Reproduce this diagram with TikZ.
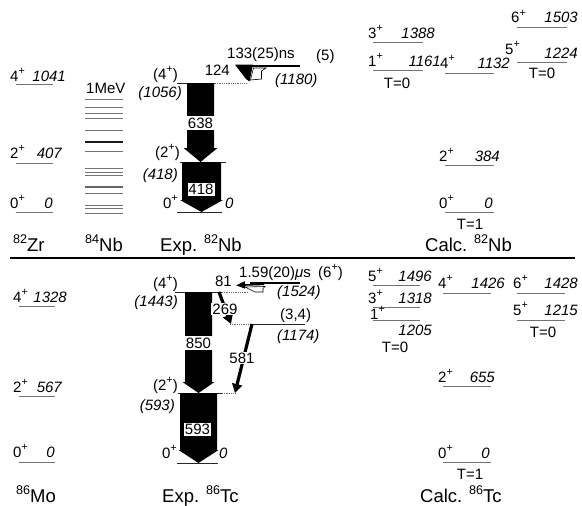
\documentclass[tikz,border=0pt]{standalone}
\usepackage{fontspec}
\usepackage{graphicx}
\setmainfont{Liberation Sans}
\usetikzlibrary{arrows.meta}
\newcommand{\parity}{\raisebox{0.42em}{\scalebox{0.72}{+}}}
\newcommand{\mass}[1]{\raisebox{0.42em}{\scalebox{0.68}{#1}}}
\tikzset{
  lvl/.style={line width=0.9pt, black!55},
  explvl/.style={line width=0.9pt, black!85},
  isolvl/.style={line width=2.6pt, black},
  dotlvl/.style={line width=0.8pt, black!60, densely dotted},
  lab/.style={inner sep=0pt, font=\fontsize{15}{16}\selectfont},
  hdr/.style={inner sep=0pt, anchor=base west, font=\fontsize{18.5}{19}\selectfont},
  gam/.style={line width=3.2pt, -{Triangle[length=9pt, width=10pt]}},
}

\begin{document}
\begin{tikzpicture}[x=1pt, y=-1pt]
  \useasboundingbox (0,0) rectangle (582,506);

  % Levels of 82Zr, 86Mo and the calculations
  \foreach \xa/\xb/\y/\sx/\sy/\sp/\ex/\ey/\en [count=\i] in {
    16/53/84/10/81/4/66/81/1041,
    16/53/163/10/158/2/62/158/407,
    16/53/212/10/208/0/53/208/0,
    373/423/42/368/38/3/435/38/1388,
    373/423/70/368/66/1/441/66/1161,
    445/494/73/440/68/4/510/68/1132,
    517/567/27/511/23/6/578/23/1503,
    517/567/62/505/54/5/578/58/1224,
    445/494/165/439/161/2/500/161/384,
    445/494/212/439/208/0/493/208/0,
    19/55/306/13/302/4/67/302/1328,
    19/55/396/13/392/2/62/392/567,
    19/55/462/13/457/0/55/457/0,
    373/420/285/368/281/5/432/281/1496,
    373/420/307/368/303/3/432/303/1318,
    373/420/320/370/319/1/432/335/1205,
    443/491/293/438/288/4/505/288/1426,
    517/565/293/513/288/6/578/288/1428,
    517/565/320/513/315/5/578/315/1215,
    443/491/386/438/382/2/495/382/655,
    443/491/462/438/458/0/490/458/0
  } {
    \draw[lvl] (\xa,\y) -- (\xb,\y);
    \node[lab, anchor=base west] (sp-\i) at (\sx,\sy) {\sp\parity};
    \node[lab, anchor=base east] (en-\i) at (\ex,\ey) {\itshape\en};
  }

  % Isospin of the calculated bands
  \foreach \x/\y/\t [count=\i] in {397/83/0, 542/73/0, 470/224/1, 395/347/0, 543/332/0, 470/474/1}
    \node[lab] (iso-\i) at (\x,\y) {T=\t};

  % 84Nb level density
  \node[lab, anchor=base west] (mev) at (86,93) {1MeV};
  \foreach \y/\w/\c in {99/0.8/55, 107/0.8/55, 113/0.8/55, 118/0.8/55, 130/0.8/55,
    142/1.8/90, 151/0.8/55, 168/0.8/55, 172/0.8/55, 175/0.8/55, 187/1.8/60,
    193/0.8/55, 205/0.8/55, 208/0.8/55, 213/0.8/55}
    \draw[line width=\w pt, black!\c] (85,\y) -- (123,\y);

  % Experimental levels, 82Nb
  \draw[explvl] (177,83) -- (215,83);
  \draw[dotlvl] (215,83) -- (247,83);
  \draw[explvl] (180,162) -- (226,162);
  \draw[explvl] (177,212) -- (222,212);
  \draw[isolvl] (237,66) -- (300,66);

  % Experimental levels, 86Tc
  \draw[explvl] (175,292) -- (222,292);
  \draw[dotlvl] (222,292) -- (248,292);
  \draw[dotlvl] (230,324) -- (250,324);
  \draw[explvl] (250,324) -- (305,324);
  \draw[explvl] (178,393) -- (222,393);
  \draw[dotlvl] (222,393) -- (236,393);
  \draw[explvl] (177,463) -- (218,463);
  \draw[isolvl] (250,283) -- (300,283);

  % Wide intensity arrows
  \foreach \xc/\wb/\wh/\ya/\yb/\yc in {200.5/13.5/17/83/148/162, 201.5/19.5/21.5/162/200/212,
    198.5/13.5/16/292/382/393, 198.5/18.5/20/393/450/463}
    \fill (\xc-\wb,\ya) -- (\xc+\wb,\ya) -- (\xc+\wb,\yb) -- (\xc+\wh,\yb) -- (\xc,\yc)
      -- (\xc-\wh,\yb) -- (\xc-\wb,\yb) -- cycle;
  \node[lab, fill=white, minimum width=30pt, inner ysep=1.5pt] (g638) at (200.5,123) {638};
  \node[lab, fill=white, minimum width=30pt, inner ysep=1.5pt] (g850) at (198.5,343) {850};
  \node[lab, fill=white, draw, line width=0.6pt, inner sep=1.5pt] (b418) at (201,189.5) {418};
  \node[lab, fill=white, draw, line width=0.6pt, inner sep=1.5pt] (b593) at (197.5,429) {593};

  % Isomer decay 82Nb
  \fill (235,64.7) -- (253,64.7) -- (249.5,81.5) -- (246,79) -- cycle;
  \filldraw[fill=white, line width=0.6pt] (253.5,68) -- (266,68) -- (261.5,71) -- (261.5,79)
    -- (250.5,80) -- cycle;

  % Isomer decay and side branch 86Tc
  \coordinate (iso6) at (264,284.3);
  \coordinate (tc81) at (236,285.3);
  \coordinate (tc4) at (219,292);
  \coordinate (tc34a) at (231,324);
  \coordinate (tc34b) at (252,324);
  \coordinate (tc2) at (235,393);
  \draw[line width=1.6pt, -{Triangle[length=9pt, width=7pt]}] (iso6) -- (tc81);
  \filldraw[fill=white, line width=0.6pt] (245,287) -- (265,286.5) -- (263,288.5) -- (263,292)
    -- (255,292) -- cycle;
  \draw[gam] (tc4) -- (tc34a);
  \draw[gam] (tc34b) -- (tc2);
  \node[lab, fill=white, inner sep=1pt] (g269) at (225,309) {269};
  \node[lab, fill=white, inner sep=1pt] (g581) at (242,358) {581};

  % Experimental labels
  \foreach \x/\y/\an/\t [count=\i] in {
    178/79/east/{(4\parity)}, 182/97/east/{\itshape(1056)}, 180/157/east/{(2\parity)},
    178/179/east/{\itshape(418)}, 178/208/east/{0\parity}, 225/208/west/{\itshape0},
    230/75/east/{124}, 227/59/west/{133(25)ns}, 316/60/west/{(5)}, 275/84/west/{\itshape(1180)},
    178/288/east/{(4\parity)}, 178/306/east/{\itshape(1443)}, 232/286/east/{81},
    239/277/west/{1.59(20){\itshape μ}s}, 318/277/west/{(6\parity)}, 277/296/west/{\itshape(1524)},
    280/319/west/{(3,4)}, 277/340/west/{\itshape(1174)}, 178/390/east/{(2\parity)},
    175/410/east/{\itshape(593)}, 177/458/east/{0\parity}, 219/458/west/{\itshape0}
  }
    \node[lab, anchor=base \an] (ex-\i) at (\x,\y) {\t};

  % Separator
  \draw[line width=1.3pt] (10,258) -- (575,258);

  % Nucleus names
  \node[hdr] (zr) at (13,251) {\mass{82}Zr};
  \node[hdr] (nb84) at (85,251) {\mass{84}Nb};
  \node[hdr] (exp82) at (160,251) {Exp. \mass{82}Nb};
  \node[hdr] (calc82) at (425,251) {Calc. \mass{82}Nb};
  \node[hdr] (mo) at (16,502) {\mass{86}Mo};
  \node[hdr] (exp86) at (162,502) {Exp. \mass{86}Tc};
  \node[hdr] (calc86) at (420,502) {Calc. \mass{86}Tc};
\end{tikzpicture}
\end{document}
